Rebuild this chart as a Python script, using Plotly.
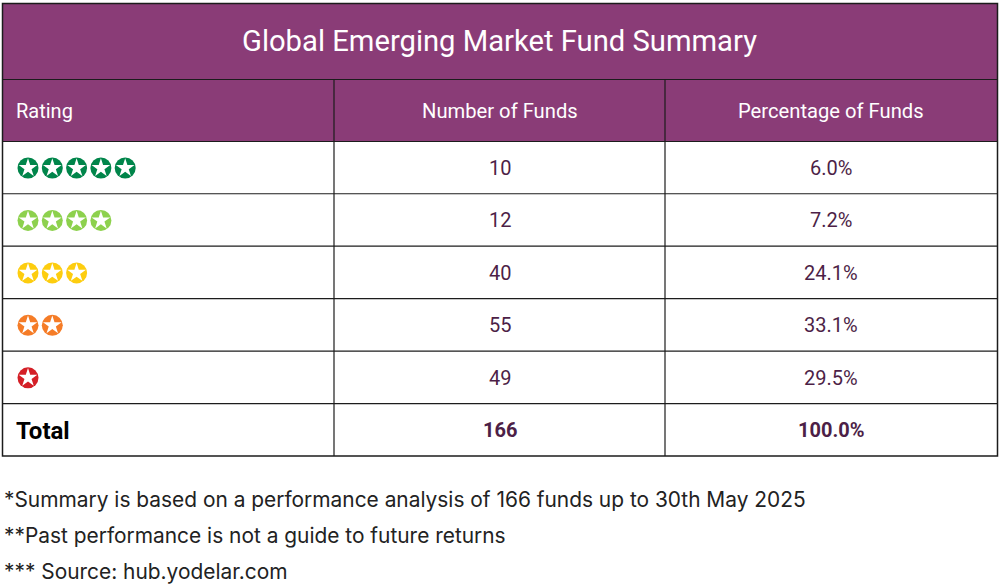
import plotly.graph_objects as go

title = 'Global Emerging Market Fund Summary'
headers = ['Rating', 'Number of Funds', 'Percentage of Funds']
stars = [5, 4, 3, 2, 1]
star_colors = ['#00854a', '#8dd14d', '#fdcd0f', '#f57c27', '#d41f26']
funds = [10, 12, 40, 55, 49]
shares = ['6.0%', '7.2%', '24.1%', '33.1%', '29.5%']
total_label = 'Total'
total_funds = 166
total_share = '100.0%'
notes = ['*Summary is based on a performance analysis of 166 funds up to 30th May 2025',
         '**Past performance is not a guide to future returns',
         '*** Source: hub.yodelar.com']

W, H = 1000, 585
PURPLE = '#8a3c77'
INK = '#4d1f47'
LINE = '#1c1c1c'
ROW_H = 52.45
ROW0 = 168
STAR_DX = 24.3
STAR0 = 28
LEFT, RIGHT, COL1, COL2 = 2.5, 997.5, 334, 665
TOP, TITLE_B, HEAD_B = 3.5, 79.5, 141.5
COL_MID = [500, 831]


def px(x):
    return x / W


def py(y):
    return 1 - y / H


fig = go.Figure()

# star badges, x is the star number and y the row number
for row, (n, color) in enumerate(zip(stars, star_colors)):
    xs = list(range(1, n + 1))
    ys = [row] * n
    fig.add_trace(go.Scatter(x=xs, y=ys, mode='markers', xaxis='x2', yaxis='y',
                             marker=dict(symbol='circle', size=21, color=color, line=dict(width=0))))
    fig.add_trace(go.Scatter(x=xs, y=ys, mode='markers', xaxis='x2', yaxis='y',
                             marker=dict(symbol='star', size=14, color='white', line=dict(width=0))))

bottom = ROW0 - 0.5 + ROW_H * 5.5
shapes = [
    dict(type='rect', xref='paper', yref='paper', x0=px(LEFT), x1=px(RIGHT), y0=py(HEAD_B), y1=py(TOP),
         fillcolor=PURPLE, line=dict(width=0), layer='below'),
    dict(type='rect', xref='paper', yref='paper', x0=px(LEFT), x1=px(RIGHT),
         y0=py(bottom), y1=py(TOP), fillcolor='rgba(0,0,0,0)', line=dict(color=LINE, width=1.5)),
]
for y in [TITLE_B, HEAD_B] + [ROW0 - 0.5 + ROW_H * (r + 0.5) for r in range(5)]:
    shapes.append(dict(type='line', xref='paper', yref='paper', x0=px(LEFT), x1=px(RIGHT),
                       y0=py(y), y1=py(y), line=dict(color=LINE, width=1.2)))
for x in [COL1, COL2]:
    shapes.append(dict(type='line', xref='paper', yref='paper', x0=px(x), x1=px(x),
                       y0=py(TITLE_B), y1=py(bottom), line=dict(color=LINE, width=1.2)))

annotations = [
    dict(text=title, x=px(499.5), y=py(41.5), xanchor='center', font=dict(family='Roboto', size=29.2, color='white')),
    dict(text=headers[0], x=px(13.5), y=py(110.5), xanchor='left', font=dict(family='Roboto', size=20, color='white')),
    dict(text=headers[1], x=px(COL_MID[0]), y=py(110.5), xanchor='center', font=dict(family='Roboto', size=20.2, color='white')),
    dict(text=headers[2], x=px(COL_MID[1]), y=py(110.5), xanchor='center', font=dict(family='Roboto', size=20.2, color='white')),
    dict(text='<b>%s</b>' % total_label, x=px(14), y=py(430.5), xanchor='left', font=dict(family='Roboto', size=24, color='black')),
]
for note, y in zip(notes, [499, 535, 571]):
    annotations.append(dict(text=note, x=px(2), y=py(y), xanchor='left',
                            font=dict(family='Inter', size=20.9, color='#222222')))
for a in annotations:
    a.update(xref='paper', yref='paper', yanchor='middle', showarrow=False)

# number cells, placed by column and row number
cells = [str(v) for v in funds] + ['<b>%d</b>' % total_funds]
share_cells = shares + ['<b>%s</b>' % total_share]
for row, (a, b) in enumerate(zip(cells, share_cells)):
    for x, text in zip(COL_MID, (a, b)):
        annotations.append(dict(text=text, x=x, y=row, xref='x', yref='y', yanchor='middle', xanchor='center',
                                showarrow=False, font=dict(family='Roboto', size=20, color=INK)))

fig.update_layout(
    width=W, height=H, margin=dict(l=0, r=0, t=0, b=0),
    paper_bgcolor='white', plot_bgcolor='white', showlegend=False,
    xaxis=dict(range=[0, W], visible=False, domain=[0, 1]),
    xaxis2=dict(range=[1 - STAR0 / STAR_DX, 1 + (W - STAR0) / STAR_DX], visible=False,
                overlaying='x', domain=[0, 1]),
    yaxis=dict(range=[(H - ROW0) / ROW_H, -ROW0 / ROW_H], visible=False, domain=[0, 1]),
    shapes=shapes, annotations=annotations,
)

fig.write_html('out.html', config=dict(displayModeBar=False), post_script="document.body.style.margin='0';")
